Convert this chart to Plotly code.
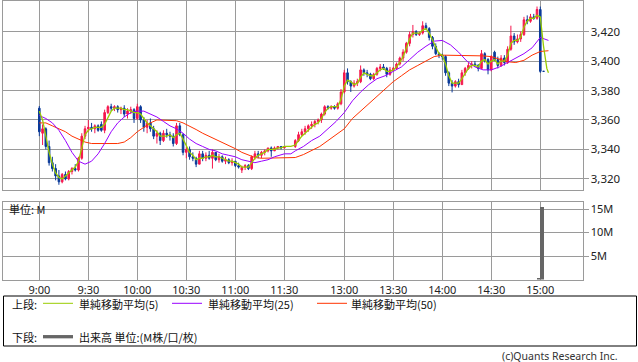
import plotly.graph_objects as go

# ---------------- data ----------------
def times(h0, m0, h1, m1, step):
    out = []
    t = h0 * 60 + m0
    while t <= h1 * 60 + m1:
        out.append(f"{t // 60}:{t % 60:02d}")
        t += step
    return out

bar_times = times(9, 0, 11, 30, 2) + times(12, 30, 15, 0, 2) + ["15:02"]

open_ = [3368, 3351, 3354, 3342, 3331, 3327, 3322, 3318, 3323, 3320, 3325, 3327, 3326, 3334, 3349, 3354,
         3355, 3354, 3356, 3357, 3353, 3365, 3369, 3368, 3369, 3367, 3368, 3364, 3366, 3367, 3361, 3369,
         3360, 3355, 3358, 3354, 3349, 3351, 3346, 3351, 3350, 3349, 3344, 3356, 3350, 3338, 3340, 3335,
         3334, 3330, 3337, 3334, 3336, 3334, 3338, 3333, 3335, 3332, 3333, 3331, 3332, 3329, 3326, 3328,
         3329, 3327, 3335, 3337, 3336, 3338, 3339, 3341, 3339, 3341, 3342, 3341,
         3342, 3346, 3350, 3352, 3354, 3356, 3357, 3359, 3360, 3364, 3369, 3368, 3369, 3368, 3371, 3379,
         3392, 3386, 3383, 3385, 3386, 3394, 3392, 3391, 3388, 3391, 3395, 3396, 3395, 3391, 3394, 3395,
         3398, 3402, 3406, 3412, 3418, 3420, 3418, 3419, 3424, 3422, 3416, 3410, 3405, 3404, 3403, 3392,
         3385, 3383, 3386, 3384, 3392, 3395, 3397, 3398, 3397, 3395, 3405, 3401, 3394, 3406, 3401, 3397,
         3402, 3399, 3408, 3417, 3413, 3415, 3418, 3428, 3427, 3430, 3429, 3435, 3393]
high = [3369.5, 3357, 3355, 3346, 3335, 3330, 3326, 3324, 3325, 3326, 3328, 3330, 3335, 3351, 3356, 3360,
        3358, 3357, 3357, 3359, 3367, 3370, 3371, 3370, 3370, 3369, 3370, 3368, 3369, 3368, 3371, 3370,
        3362, 3360, 3361, 3356, 3353, 3352, 3353, 3354, 3352, 3351, 3358, 3358, 3351, 3342, 3342, 3338,
        3335, 3339, 3339, 3338, 3339, 3340, 3338, 3337, 3336, 3335, 3334, 3334, 3332, 3331, 3329, 3330,
        3330, 3336, 3339, 3339, 3339, 3340, 3341, 3342, 3342, 3342, 3342, 3342,
        3347, 3352, 3354, 3356, 3357, 3359, 3360, 3361, 3365, 3370, 3370, 3370, 3370, 3372, 3381, 3394,
        3395, 3387, 3387, 3388, 3397, 3395, 3394, 3392, 3392, 3396, 3398, 3398, 3396, 3396, 3396, 3399,
        3403, 3408, 3413, 3420, 3424.5, 3421, 3420, 3427, 3426, 3423, 3417, 3412, 3406, 3405, 3404, 3393,
        3387, 3387, 3388, 3394, 3396, 3399, 3400, 3400, 3398, 3407.5, 3406, 3402, 3404, 3407, 3403, 3404,
        3404, 3410, 3424, 3419, 3418, 3420, 3430, 3431, 3432, 3432, 3437, 3437, 3393]
low = [3349, 3343, 3340, 3329, 3325, 3319, 3316, 3317, 3319, 3319, 3323, 3325, 3325, 3333, 3347, 3352,
       3352, 3351, 3352, 3352, 3351, 3364, 3366, 3366, 3365, 3364, 3362, 3361, 3364, 3358, 3360, 3358,
       3352, 3351, 3352, 3347, 3344, 3343, 3345, 3348, 3346, 3342, 3343, 3349, 3336, 3334, 3333, 3332,
       3328, 3330, 3332, 3332, 3333, 3327, 3332, 3331, 3331, 3330, 3330, 3329, 3328, 3327, 3324, 3326,
       3326, 3326, 3333, 3334, 3334, 3336, 3338, 3335, 3339, 3340, 3340, 3341,
       3341, 3345, 3349, 3350, 3352, 3354, 3355, 3357, 3358, 3363, 3367, 3367, 3367, 3367, 3370, 3378,
       3384, 3379, 3382, 3383, 3385, 3390, 3389, 3387, 3387, 3390, 3393, 3394, 3389, 3390, 3393, 3394,
       3397, 3400, 3405, 3410, 3416, 3417, 3417, 3418, 3421, 3414, 3408, 3404, 3402, 3401, 3390, 3383,
       3378.7, 3382, 3382, 3384, 3390, 3394, 3395, 3396, 3393, 3395, 3399, 3391, 3393, 3400, 3395, 3396,
       3397, 3398, 3407, 3411, 3412, 3413, 3417, 3425, 3426, 3428, 3428, 3392, 3393]
close = [3352, 3354, 3342, 3331, 3327, 3322, 3318, 3323, 3320, 3325, 3327, 3326, 3334, 3349, 3354, 3355,
         3354, 3356, 3353, 3353, 3365, 3369, 3368, 3369, 3367, 3368, 3364, 3366, 3367, 3361, 3369, 3360,
         3355, 3358, 3354, 3349, 3351, 3346, 3351, 3350, 3349, 3344, 3356, 3350, 3338, 3340, 3335, 3334,
         3330, 3337, 3334, 3336, 3334, 3338, 3333, 3335, 3332, 3333, 3331, 3332, 3329, 3328, 3328, 3329,
         3327, 3335, 3337, 3336, 3338, 3339, 3341, 3339, 3341, 3342, 3341, 3342,
         3346, 3350, 3352, 3354, 3356, 3357, 3359, 3360, 3364, 3369, 3368, 3369, 3368, 3371, 3379, 3392,
         3386, 3383, 3385, 3386, 3394, 3392, 3391, 3388, 3391, 3395, 3396, 3395, 3391, 3394, 3395, 3398,
         3402, 3406, 3412, 3418, 3420, 3418, 3419, 3424, 3422, 3416, 3410, 3405, 3404, 3403, 3392, 3385,
         3383, 3386, 3384, 3392, 3395, 3397, 3398, 3397, 3395, 3405, 3401, 3394, 3403, 3401, 3397, 3402,
         3399, 3408, 3417, 3413, 3415, 3418, 3428, 3427, 3430, 3429, 3435, 3393, 3393]

ma5_times = times(9, 0, 11, 30, 2) + ["11:34"] + times(12, 30, 15, 0, 2) + ["15:02", "15:04", "15:05"]
ma5 = [3366, 3360, 3349, 3338, 3330, 3324, 3321, 3320, 3322, 3324, 3326, 3328, 3332, 3342, 3350, 3353,
       3354, 3355, 3355, 3355, 3357, 3361, 3366, 3368, 3368, 3368, 3367, 3367, 3366, 3365, 3365, 3364,
       3361, 3358, 3356, 3354, 3352, 3349, 3349, 3349, 3350, 3348, 3350, 3351, 3347, 3342, 3338, 3336,
       3333, 3334, 3334, 3335, 3335, 3336, 3335, 3335, 3334, 3333, 3332, 3332, 3331, 3330, 3328, 3328,
       3328, 3331, 3334, 3336, 3337, 3338, 3340, 3340, 3340, 3341, 3341, 3342,
       3342,
       3343, 3346, 3349, 3351, 3353, 3355, 3357, 3358, 3361, 3365, 3368, 3369, 3369, 3369, 3374, 3383,
       3387, 3386, 3384, 3385, 3389, 3392, 3391, 3390, 3390, 3392, 3394, 3395, 3393, 3393, 3394, 3396,
       3399, 3403, 3409, 3415, 3419, 3419, 3419, 3421, 3422, 3419, 3414, 3409, 3405, 3404, 3398, 3390,
       3385, 3385, 3385, 3388, 3392, 3395, 3397, 3397, 3396, 3400, 3401, 3398, 3400, 3401, 3398, 3400,
       3400, 3404, 3412, 3414, 3414, 3416, 3423, 3427, 3429, 3429, 3431, 3430,
       3410, 3395, 3392]

ma_long_times = times(9, 0, 11, 28, 4) + ["11:30", "11:34"] + times(12, 30, 15, 5, 5)
ma25 = [3363, 3361, 3358, 3353, 3346, 3338, 3332, 3330, 3332, 3337, 3344, 3352, 3358, 3362, 3365, 3366,
        3366, 3364, 3362, 3359, 3356, 3354, 3351, 3347, 3344, 3342, 3340, 3339, 3337, 3336, 3335, 3333,
        3332, 3331, 3332, 3333, 3335, 3336,
        3337, 3337,
        3339, 3342, 3346, 3349, 3354, 3359, 3365, 3373, 3379, 3384, 3388, 3390, 3393, 3396, 3401, 3406,
        3410, 3413.5, 3414, 3411, 3406, 3400, 3396, 3394, 3394, 3396, 3399, 3402, 3405, 3409, 3416, 3414]
ma50 = [3358, 3358, 3356, 3354, 3352, 3349, 3347, 3345, 3344, 3344, 3344, 3344, 3344, 3345, 3348, 3352,
        3355, 3358, 3360, 3360, 3360, 3359.5, 3358, 3356, 3353.5, 3351, 3349, 3347, 3345, 3342.5, 3340.5, 3338,
        3336, 3334.5, 3334, 3334, 3334, 3334,
        3334, 3334,
        3334.5, 3336.5, 3339, 3342, 3346, 3350, 3354, 3361, 3366, 3371, 3376, 3381, 3386, 3390, 3394, 3397,
        3400, 3403, 3404, 3404, 3403.5, 3403.5, 3404, 3403.5, 3403, 3401, 3399.5, 3399, 3400.5, 3404, 3406.5, 3407]

vol_times = ["14:58", "15:00"]
volume_m = [0.4, 15.5]

tick_labels = ["9:00", "9:30", "10:00", "10:30", "11:00", "11:30",
               "13:00", "13:30", "14:00", "14:30", "15:00"]
price_ticks = [3320, 3340, 3360, 3380, 3400, 3420]
vol_ticks = [5, 10, 15]
vol_tick_text = ["5M", "10M", "15M"]

# ---------------- scale helpers ----------------
LUNCH_SHIFT = 53.3


def xpos(t):
    h, m = map(int, t.split(":"))
    mins = h * 60 + m - 540
    return mins if mins < 180 else mins - LUNCH_SHIFT


W, H = 638, 362


def px(x):
    return x / W


def py(y):
    return 1 - y / H


RED = "#f5174d"
BLUE = "#0a3a99"
GRID = "#9a9a9a"
FONT = "Noto Sans, Noto Sans CJK JP, sans-serif"
JFONT = "Noto Sans CJK JP, Noto Sans, sans-serif"

fig = go.Figure()

fig.add_trace(go.Candlestick(
    x=[xpos(t) for t in bar_times], open=open_, high=high, low=low, close=close,
    increasing=dict(line=dict(color=RED, width=1), fillcolor=RED),
    decreasing=dict(line=dict(color=BLUE, width=1), fillcolor=BLUE),
    whiskerwidth=0, hoverinfo="skip", xaxis="x", yaxis="y"))

fig.add_trace(go.Scatter(x=[xpos(t) for t in ma_long_times], y=ma50, mode="lines",
                         line=dict(color="#ff3300", width=1), hoverinfo="skip", xaxis="x", yaxis="y"))
fig.add_trace(go.Scatter(x=[xpos(t) for t in ma_long_times], y=ma25, mode="lines",
                         line=dict(color="#9900ff", width=1), hoverinfo="skip", xaxis="x", yaxis="y"))
fig.add_trace(go.Scatter(x=[xpos(t) for t in ma5_times], y=ma5, mode="lines",
                         line=dict(color="#99cc00", width=1.3), hoverinfo="skip", xaxis="x", yaxis="y"))

fig.add_trace(go.Bar(x=[xpos(t) for t in vol_times], y=volume_m, width=2, offset=0,
                     marker=dict(color="#666666", line=dict(width=0)),
                     hoverinfo="skip", xaxis="x2", yaxis="y2"))

XDOM = [px(3.3), px(582.5)]
XRANGE = [(3.3 - 39.3) / 1.6335, (582.5 - 39.3) / 1.6335]
tickvals = [xpos(t) for t in tick_labels]

common_x = dict(domain=XDOM, range=XRANGE, tickvals=tickvals, ticktext=tick_labels,
                showgrid=True, gridcolor=GRID, gridwidth=1, showline=True, linecolor=GRID,
                linewidth=1, mirror=True, zeroline=False, ticks="", fixedrange=True)

fig.update_layout(
    width=W, height=H, margin=dict(l=0, r=0, t=0, b=0),
    paper_bgcolor="white", plot_bgcolor="white", showlegend=False,
    font=dict(family=FONT, size=11, color="#222222"),
    xaxis=dict(**common_x, anchor="y", showticklabels=False, rangeslider=dict(visible=False)),
    xaxis2=dict(**common_x, anchor="y2", showticklabels=True, matches="x",
                tickfont=dict(family=FONT, size=11, color="#222222")),
    yaxis=dict(domain=[py(190), py(0.5)], range=[3312.45, 3441.1], side="right", anchor="x",
               tickvals=price_ticks, tickformat=",d", ticks="outside", ticklen=5, tickcolor=GRID,
               showgrid=True, gridcolor=GRID, showline=True, linecolor=GRID, mirror=True,
               zeroline=False, fixedrange=True, tickfont=dict(family=FONT, size=11.5, color="#222222")),
    yaxis2=dict(domain=[py(279.5), py(201.5)], range=[0, 16.6], side="right", anchor="x2",
                tickvals=vol_ticks, ticktext=vol_tick_text, ticks="outside", ticklen=5,
                tickcolor=GRID, showgrid=True, gridcolor=GRID, showline=True, linecolor=GRID,
                mirror=True, zeroline=False, fixedrange=True,
                tickfont=dict(family=FONT, size=11, color="#222222")),
    bargap=0,
)

shapes = [
    dict(type="rect", xref="paper", yref="paper", x0=px(3.5), x1=px(636.5), y0=py(346), y1=py(296),
         line=dict(color="#000000", width=1)),
    dict(type="line", xref="paper", yref="paper", x0=px(43), x1=px(73), y0=py(303.3), y1=py(303.3),
         line=dict(color="#99cc00", width=1)),
    dict(type="line", xref="paper", yref="paper", x0=px(172), x1=px(202), y0=py(303.3), y1=py(303.3),
         line=dict(color="#9900ff", width=1)),
    dict(type="line", xref="paper", yref="paper", x0=px(317), x1=px(347), y0=py(303.3), y1=py(303.3),
         line=dict(color="#ff3300", width=1)),
    dict(type="line", xref="paper", yref="paper", x0=px(43), x1=px(73), y0=py(336.7), y1=py(336.7),
         line=dict(color="#666666", width=3.3)),
]
fig.update_layout(shapes=shapes)


def note(x, y, text, size=11, anchor="left", color="#111111", family=JFONT):
    fig.add_annotation(x=px(x), y=py(y), xref="paper", yref="paper", text=text, showarrow=False,
                       xanchor=anchor, yanchor="middle", borderpad=0,
                       font=dict(family=family, size=size, color=color))


note(7.5, 209.3, "単位: M", size=11)
note(10.5, 304, "上段:")
note(77.5, 304, "単純移動平均(5)")
note(206.5, 304, "単純移動平均(25)")
note(350.5, 304, "単純移動平均(50)")
note(10.5, 336.7, "下段:")
note(77.5, 336.7, "出来高 単位:(M株/口/枚)")
note(619, 356, "(c)Quants Research Inc.", size=10.5, anchor="right", color="#333333", family=FONT)

fig.write_html("out.html", config={"displayModeBar": False, "staticPlot": True},
               post_script="document.body.style.margin='0';document.body.style.overflow='hidden';")
